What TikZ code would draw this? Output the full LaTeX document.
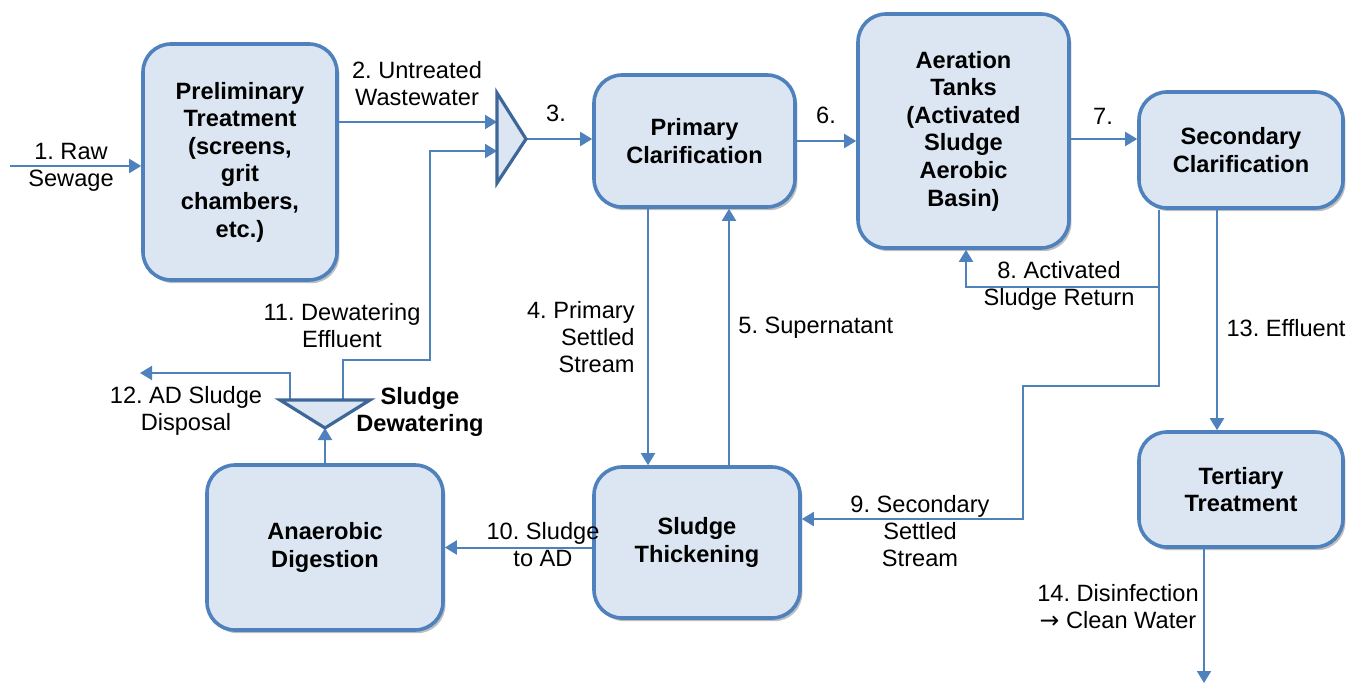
\documentclass[tikz,border=0pt]{standalone}
\usepackage{fontspec}
\setmainfont{Liberation Sans}
\newfontfamily\arrowfont{DejaVu Sans}
\usetikzlibrary{arrows.meta,shadows}

\definecolor{BoxFill}{HTML}{DCE6F2}
\definecolor{BoxLine}{HTML}{4F81BD}
\definecolor{SepLine}{HTML}{3E6799}

\newcommand{\DiagramFont}{\fontsize{11.8}{13.5}\selectfont\frenchspacing}
\newcommand{\StageFont}{\fontsize{11.8}{13.8}\selectfont\frenchspacing\bfseries}

\tikzset{
	stage/.style={draw=BoxLine, line width=1.8pt, fill=BoxFill, rounded corners=14pt, align=center, font=\StageFont, inner sep=2pt,
		drop shadow={shadow xshift=1.2pt, shadow yshift=-1.6pt, opacity=0.25, fill=black}},
	flow/.style={draw=BoxLine, line width=1pt, -{Triangle[length=6pt,width=7pt]}},
	separator/.style={draw=SepLine, line width=1.6pt, fill=BoxFill, line join=miter},
	note/.style={align=center, inner sep=0pt},
}

\begin{document}
\begin{tikzpicture}[x=0.5pt, y=-0.5pt, font=\DiagramFont]
	\pgfmathsetmacro{\ThickDownX}{648}
	\pgfmathsetmacro{\ThickUpX}{729}
	\pgfmathsetmacro{\ReturnX}{1159}
	\pgfmathsetmacro{\ReturnY}{287}
	\pgfmathsetmacro{\AerationInX}{966}
	\pgfmathsetmacro{\WasteX}{1023}
	\pgfmathsetmacro{\WasteY}{386}
	\pgfmathsetmacro{\SecSettledY}{519}
	\pgfmathsetmacro{\EffluentX}{1217}
	\useasboundingbox (0,0) rectangle (1363,684);
	
	% process stages
	\node[stage, minimum width=97pt, minimum height=118pt] (Prelim) at (240,162) {Preliminary\\Treatment\\(screens,\\grit\\chambers,\\etc.)};
	\node[stage, minimum width=100.5pt, minimum height=66pt] (Primary) at (694.5,141) {Primary\\Clarification};
	\node[stage, minimum width=105.5pt, minimum height=117pt] (Aeration) at (963.5,131) {Aeration\\Tanks\\(Activated\\Sludge\\Aerobic\\Basin)};
	\node[stage, minimum width=102pt, minimum height=58pt] (Secondary) at (1241,150) {Secondary\\Clarification};
	\node[stage, minimum width=102pt, minimum height=57.5pt] (Tertiary) at (1241,489.5) {Tertiary\\Treatment};
	\node[stage, minimum width=103pt, minimum height=75.5pt] (Thickening) at (697,542.5) {Sludge\\Thickening};
	\node[stage, minimum width=118pt, minimum height=82.5pt] (Digestion) at (325,547.5) {Anaerobic\\Digestion};
	
	\coordinate (MixTop) at (497,93);
	\coordinate (MixBot) at (497,183);
	\coordinate (MixTip) at (526,139);
	\coordinate (DewL) at (280,400);
	\coordinate (DewR) at (370,400);
	\coordinate (DewTip) at (325,428);
	\coordinate (EffluentOut) at (343,400);
	\coordinate (SludgeOut) at (290,400);
	\coordinate (DisposalEnd) at (140,373);
	\coordinate (RawIn) at (10,166);
	\coordinate (CleanEnd) at (1204,683);
	
	% main stream
	\draw[flow] (RawIn) -- (RawIn -| Prelim.west);
	\draw[flow] (Prelim.east |- 0,122) -- (MixTop |- 0,122);
	\draw[flow] (MixTip) -- (MixTip -| Primary.west);
	\draw[flow] (Primary.east) -- (Primary.east -| Aeration.west);
	\draw[flow] ([yshift=-4pt]Aeration.east) -- ([yshift=-4pt]Aeration.east -| Secondary.west);
	\draw[flow] (Secondary.south -| \EffluentX,0) -- (Tertiary.north -| \EffluentX,0);
	\draw[flow] (Tertiary.south -| CleanEnd) -- (CleanEnd);
	
	% sludge lines
	\draw[flow] (Primary.south -| \ThickDownX,0) -- (Thickening.north -| \ThickDownX,0);
	\draw[flow] (Thickening.north -| \ThickUpX,0) -- (Primary.south -| \ThickUpX,0);
	\draw[flow] (Secondary.south -| \ReturnX,0) -- (\ReturnX,\WasteY) -- (\WasteX,\WasteY) -- (\WasteX,\SecSettledY) -- (Thickening.east |- 0,\SecSettledY);
	\draw[flow] (\ReturnX,\ReturnY) -- (\AerationInX,\ReturnY) -- (Aeration.south -| \AerationInX,0);
	\draw[flow] (Thickening.west |- Digestion.east) -- (Digestion.east);
	\draw[flow] (Digestion.north) -- (DewTip);
	\draw[flow] (EffluentOut) |- (430,360) |- (MixTop |- 0,151);
	\draw[flow] (SludgeOut) |- (DisposalEnd);
	
	\draw[separator] (MixTop) -- (MixTip) -- (MixBot) -- cycle;
	\draw[separator] (DewL) -- (DewR) -- (DewTip) -- cycle;
	
	% stream labels
	\node[note] (RawLbl) at (71,167) {1. Raw\\Sewage};
	\node[note] (UntreatedLbl) at (417,84) {2. Untreated\\Wastewater};
	\node[note] (MixLbl) at (556,113) {3.};
	\node[note, align=right, anchor=east] (PrimSettledLbl) at (635,337) {4. Primary\\Settled\\Stream};
	\node[note, anchor=west] (SuperLbl) at (738,328) {5. Supernatant};
	\node[note] (SixLbl) at (826,115) {6.};
	\node[note] (SevenLbl) at (1103,116) {7.};
	\node[note] (ReturnLbl) at (1059,286) {8. Activated\\Sludge Return};
	\node[note] (SecSettledLbl) at (920,531) {9. Secondary\\Settled\\Stream};
	\node[note] (ToADLbl) at (543,545) {10. Sludge\\to AD};
	\node[note] (DewEffLbl) at (342,326) {11. Dewatering\\Effluent};
	\node[note] (DisposalLbl) at (186,411) {12. AD Sludge\\Disposal};
	\node[note] (EffluentLbl) at (1286,328) {13. Effluent};
	\node[note] (CleanLbl) at (1118,607) {14. Disinfection\\{\arrowfont →} Clean Water};
	\node[note, font=\DiagramFont\bfseries] (DewLbl) at (420,412) {Sludge\\Dewatering};
\end{tikzpicture}
\end{document}
